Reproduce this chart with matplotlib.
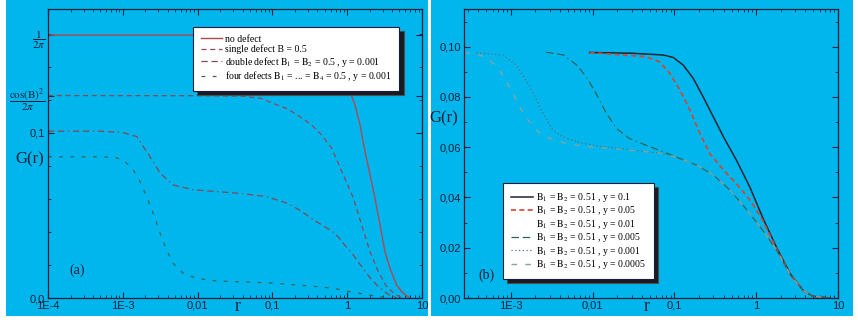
import numpy as np
import matplotlib
matplotlib.use('Agg')
import matplotlib.pyplot as plt
from matplotlib.patches import Rectangle
from matplotlib.ticker import FixedLocator, FixedFormatter, MultipleLocator, LogLocator, NullFormatter

plt.rcParams['font.family'] = ['Liberation Sans', 'DejaVu Sans']
plt.rcParams['mathtext.fontset'] = 'stix'

# ---- panel (a) data ----
r_nodef = [1e-4, 0.01, 0.1, 0.3, 0.6, 0.9, 1.09, 1.27, 1.48, 1.73, 2.02, 2.35, 2.75, 3.2, 3.73, 4.57, 5.6, 6.9]
g_nodef = [0.1592, 0.1592, 0.1590, 0.1578, 0.150, 0.136, 0.125, 0.117, 0.105, 0.0887, 0.0745, 0.0604, 0.0442, 0.028, 0.018, 0.0079, 0.0028, 0.0]

r_single = [1e-4, 0.01, 0.04, 0.07, 0.1, 0.16, 0.23, 0.33, 0.45, 0.62, 0.89, 1.21, 1.56, 2.02, 2.6, 3.37, 4.36, 5.5]
g_single = [0.1226, 0.1225, 0.1222, 0.121, 0.118, 0.1145, 0.110, 0.105, 0.099, 0.0907, 0.0745, 0.0604, 0.0442, 0.028, 0.016, 0.0069, 0.0022, 0.0]

r_double = [1e-4, 5e-4, 1e-3, 1.53e-3, 1.88e-3, 2.3e-3, 3.15e-3, 4.7e-3, 8.8e-3, 0.02, 0.04, 0.084, 0.157, 0.23, 0.39, 0.69, 0.93, 1.21, 1.56, 2.02, 2.6, 3.55, 4.6]
g_double = [0.1010, 0.1010, 0.1002, 0.0978, 0.0917, 0.0857, 0.0756, 0.0685, 0.0655, 0.0643, 0.0632, 0.0614, 0.0574, 0.0533, 0.0462, 0.0392, 0.032, 0.026, 0.019, 0.0123, 0.0069, 0.0022, 0.0]

r_four = [1e-4, 5e-4, 8e-4, 1.02e-3, 1.38e-3, 1.7e-3, 2.08e-3, 2.55e-3, 3.15e-3, 3.85e-3, 4.7e-3, 6.4e-3, 9.7e-3, 0.018, 0.1, 0.39, 0.65, 0.98, 1.48, 2.23, 3.7]
g_four = [0.0855, 0.0855, 0.0850, 0.0836, 0.0776, 0.0705, 0.0614, 0.0513, 0.0392, 0.029, 0.021, 0.015, 0.0119, 0.0103, 0.0091, 0.0069, 0.0059, 0.0042, 0.0028, 0.0014, 0.0]

# ---- panel (b) data ----
r_y01 = [0.0092, 0.03, 0.073, 0.097, 0.128, 0.17, 0.225, 0.30, 0.40, 0.57, 0.84, 1.2, 1.78, 2.6, 3.75, 4.9, 7.8]
g_y01 = [0.0977, 0.0974, 0.0967, 0.0957, 0.0927, 0.0874, 0.080, 0.072, 0.064, 0.055, 0.044, 0.032, 0.020, 0.0097, 0.003, 0.0007, 0.0]

r_y005 = [0.0092, 0.045, 0.066, 0.088, 0.117, 0.155, 0.205, 0.27, 0.40, 0.57, 0.84, 1.2, 1.78, 2.6, 3.75, 4.9, 7.8]
g_y005 = [0.0977, 0.0960, 0.094, 0.0894, 0.0827, 0.0748, 0.0655, 0.0575, 0.0509, 0.0455, 0.039, 0.031, 0.0195, 0.0095, 0.003, 0.0007, 0.0]

r_y0005 = [0.0027, 0.0044, 0.0064, 0.0084, 0.011, 0.0148, 0.0196, 0.028, 0.045, 0.073, 0.117, 0.187, 0.30, 0.48, 0.77, 1.2, 1.78, 2.6, 3.75, 4.9, 7.8]
g_y0005 = [0.0978, 0.0967, 0.0927, 0.088, 0.0814, 0.0734, 0.0675, 0.0635, 0.0608, 0.0582, 0.0555, 0.0529, 0.0489, 0.0429, 0.035, 0.027, 0.019, 0.0093, 0.003, 0.0007, 0.0]

r_y0001 = [3.8e-4, 8e-4, 1.17e-3, 1.71e-3, 2.48e-3, 3.26e-3, 4.4e-3, 7e-3, 0.011, 0.0178, 0.045, 0.073, 0.117, 0.187, 0.30, 0.48, 0.77, 1.2, 1.78, 2.6, 3.75, 4.9, 7.8]
g_y0001 = [0.0976, 0.0967, 0.0927, 0.0841, 0.0735, 0.0668, 0.0640, 0.0618, 0.0606, 0.0598, 0.0582, 0.0575, 0.0555, 0.0529, 0.0489, 0.0429, 0.035, 0.027, 0.019, 0.0093, 0.003, 0.0007, 0.0]

r_y00005 = [2.7e-4, 3.8e-4, 5.1e-4, 5.8e-4, 7.3e-4, 8.9e-4, 1.07e-3, 1.29e-3, 1.63e-3, 2.16e-3, 3e-3, 4.4e-3, 7e-3, 0.011, 0.0178, 0.045, 0.073, 0.117, 0.187, 0.30, 0.48, 0.77, 1.2, 1.78, 2.6, 3.75, 4.9, 7.8]
g_y00005 = [0.0976, 0.0972, 0.0954, 0.094, 0.0907, 0.086, 0.0814, 0.0759, 0.0708, 0.0661, 0.0635, 0.0618, 0.0606, 0.0600, 0.0594, 0.0582, 0.0575, 0.0555, 0.0529, 0.0489, 0.0429, 0.035, 0.027, 0.019, 0.0093, 0.003, 0.0007, 0.0]

xticks_a = [1e-4, 1e-3, 0.01, 0.1, 1, 10]
xlabels_a = ['1E-4', '1E-3', '0,01', '0,1', '1', '10']
xticks_b = [1e-3, 0.01, 0.1, 1, 10]
xlabels_b = ['1E-3', '0,01', '0,1', '1', '10']
B = 0.5
yticks_a = [0.0, 0.1, np.cos(B)**2 / (2*np.pi), 1/(2*np.pi)]
ylabels_a = ['0,0', '0,1', r'$\dfrac{\mathrm{cos(B)}^2}{2\pi}$', r'$\dfrac{1}{2\pi}$']
yticks_b = [0.0, 0.02, 0.04, 0.06, 0.08, 0.10]
ylabels_b = ['0,00', '0,02', '0,04', '0,06', '0,08', '0,10']

cyan = '#00b6ec'
ink = '#14203a'
serif = ['Liberation Serif', 'DejaVu Serif']

fig = plt.figure(figsize=(8.58, 3.22), dpi=100, facecolor='white')
W, H = 858, 322
fig.patches.append(Rectangle((6/W, 6/H), 422/W, 316/H, transform=fig.transFigure,
                             facecolor=cyan, edgecolor='none', zorder=-1))
fig.patches.append(Rectangle((431/W, 6/H), 422/W, 316/H, transform=fig.transFigure,
                             facecolor=cyan, edgecolor='none', zorder=-1))

ax1 = fig.add_axes([48/W, 24/H, 374/W, 289/H])
ax2 = fig.add_axes([464/W, 24/H, 374/W, 289/H])

# panel (a)
ax1.plot(r_nodef, g_nodef, color='#b04850', lw=1.0, label='no defect')
ax1.plot(r_single, g_single, color='#8a4858', lw=0.9, ls=(0, (4, 3)), label='single defect B = 0.5')
ax1.plot(r_double, g_double, color='#804858', lw=0.9, ls=(0, (5, 3, 5, 3, 1, 3)),
         label=r'double defect $\mathrm{B}_1$ = $\mathrm{B}_2$ = 0.5 , y = 0.001')
ax1.plot(r_four, g_four, color='#3a6458', lw=0.9, ls=(0, (3, 6)),
         label=r'four defects $\mathrm{B}_1$ = ... = $\mathrm{B}_4$ = 0.5 , y = 0.001')
ax1.set_xscale('log')
ax1.set_xlim(1e-4, 10)
ax1.set_ylim(0, 0.175)
ax1.yaxis.set_major_locator(FixedLocator(yticks_a))
ax1.yaxis.set_major_formatter(FixedFormatter(ylabels_a))
ax1.yaxis.set_minor_locator(MultipleLocator(0.02))
ax1.set_xticks(xticks_a)
ax1.set_xticklabels(xlabels_a)

# panel (b)
ax2.plot(r_y01, g_y01, color='#1c2430', lw=1.1, label=r'$\mathrm{B}_1$ = $\mathrm{B}_2$ = 0.51 , y = 0.1')
ax2.plot(r_y005, g_y005, color='#d8442c', lw=1.2, ls=(0, (3, 2)), label=r'$\mathrm{B}_1$ = $\mathrm{B}_2$ = 0.51 , y = 0.05')
ax2.plot([], [], color='none', label=r'$\mathrm{B}_1$ = $\mathrm{B}_2$ = 0.51 , y = 0.01')
ax2.plot(r_y0005, g_y0005, color='#2e6458', lw=0.9, ls=(0, (6, 3, 6, 3, 1, 3)), label=r'$\mathrm{B}_1$ = $\mathrm{B}_2$ = 0.51 , y = 0.005')
ax2.plot(r_y0001, g_y0001, color='#4f7380', lw=0.9, ls=(0, (1, 2)), label=r'$\mathrm{B}_1$ = $\mathrm{B}_2$ = 0.51 , y = 0.001')
ax2.plot(r_y00005, g_y00005, color='#86a4a0', lw=1.0, ls=(0, (4, 6)), label=r'$\mathrm{B}_1$ = $\mathrm{B}_2$ = 0.51 , y = 0.0005')
ax2.set_xscale('log')
ax2.set_xlim(2.68e-4, 10)
ax2.set_ylim(0, 0.115)
ax2.set_yticks(yticks_b)
ax2.set_yticklabels(ylabels_b)
ax2.yaxis.set_minor_locator(MultipleLocator(0.01))
ax2.set_xticks(xticks_b)
ax2.set_xticklabels(xlabels_b)

for ax in (ax1, ax2):
    ax.set_facecolor('none')
    ax.xaxis.set_minor_locator(LogLocator(base=10, subs=np.arange(2, 10), numticks=20))
    ax.xaxis.set_minor_formatter(NullFormatter())
    ax.tick_params(which='both', direction='in', top=True, right=True, colors=ink,
                   labelsize=8, pad=2)
    ax.tick_params(which='major', length=4, width=0.8)
    ax.tick_params(which='minor', length=2, width=0.6)
    for s in ax.spines.values():
        s.set_color(ink)
        s.set_linewidth(0.9)

shadow = {'ox': 3, 'oy': -3, 'facecolor': '#1a1a24', 'alpha': 1}
leg1 = ax1.legend(loc='upper left', bbox_to_anchor=(0.388, 0.938), frameon=True, fancybox=False,
                  shadow=shadow, prop={'family': serif, 'size': 7}, handlelength=2.2,
                  handletextpad=0.3, labelspacing=0.06, borderpad=0.8, borderaxespad=0)
leg1.get_frame().set_edgecolor(ink)
leg1.get_frame().set_linewidth(0.8)
leg2 = ax2.legend(loc='upper left', bbox_to_anchor=(0.104, 0.397), frameon=True, fancybox=False,
                  shadow=shadow, prop={'family': serif, 'size': 7}, handlelength=2.3,
                  handletextpad=0.3, labelspacing=0.04, borderpad=0.8, borderaxespad=0)
leg2.get_frame().set_edgecolor(ink)
leg2.get_frame().set_linewidth(0.8)

ax1.text(-0.048, 0.478, 'G(r)', transform=ax1.transAxes, family=serif, fontsize=12,
         color=ink, ha='center', va='center')
ax1.text(0.508, -0.031, 'r', transform=ax1.transAxes, family=serif, fontsize=13,
         color=ink, ha='center', va='center')
ax1.text(0.078, 0.097, '(a)', transform=ax1.transAxes, family=serif, fontsize=10,
         color=ink, ha='center', va='center')
ax2.text(-0.053, 0.623, 'G(r)', transform=ax2.transAxes, family=serif, fontsize=12,
         color=ink, ha='center', va='center')
ax2.text(0.489, -0.031, 'r', transform=ax2.transAxes, family=serif, fontsize=13,
         color=ink, ha='center', va='center')
ax2.text(0.061, 0.080, '(b)', transform=ax2.transAxes, family=serif, fontsize=10,
         color=ink, ha='center', va='center')

fig.savefig('out.png', dpi=100, facecolor=fig.get_facecolor())
